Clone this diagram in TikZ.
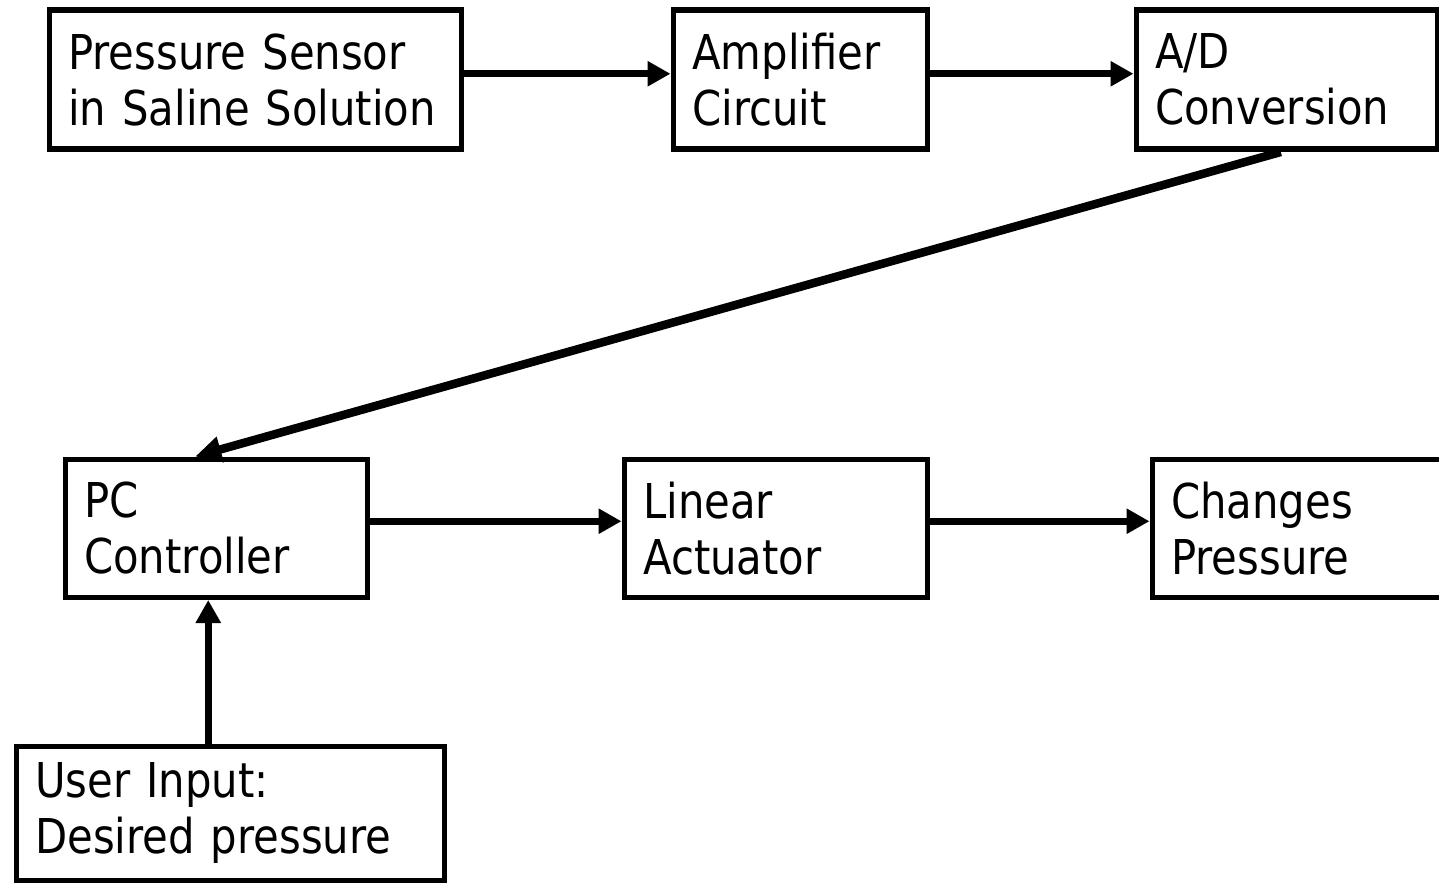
\documentclass[tikz,border=0pt]{standalone}
\usepackage{fontspec}
\setmainfont{DejaVu Sans}[FakeStretch=0.87]
\usetikzlibrary{arrows.meta, positioning, calc}

\tikzset{
  blk/.style={shape=rectangle, draw=black, fill=white, line width=5.5pt, minimum height=139pt,
    inner xsep=19pt, inner ysep=0pt, anchor=north west, align=left,
    font=\fontsize{48}{56}\selectfont},
  arr/.style={line width=7.5pt, -{Triangle[length=23pt, width=24pt]}}
}

\begin{document}
\begin{tikzpicture}[x=1pt, y=-1pt]
\useasboundingbox (0,0) rectangle (1439,885);
%top row
\node[blk, text width=374pt] (ps) at (46.5,7.5) {Pressure Sensor\\in Saline Solution};
\node[blk, text width=216pt] (amp) at (670.5,7.5) {Amplifier\\Circuit};
\node[blk, text width=263pt] (ad) at (1133.5,7.5) {A/D\\Conversion};
%bottom row
\node[blk, text width=264pt, minimum height=138pt] (pc) at (62.5,456.5) {PC\\Controller};
\node[blk, text width=265pt, minimum height=138pt] (la) at (621.5,456.5) {Linear\\Actuator};
\node[blk, text width=292pt, minimum height=138pt] (chg) at (1149.5,456.5) {Changes\\Pressure};
%user input
\node[blk, text width=390pt, minimum height=134pt] (ui) at (13.5,743.5) {User Input:\\Desired pressure};
%
\draw[arr] ([yshift=6pt]ps.east) -- ([yshift=6pt]amp.west);
\draw[arr] ([yshift=6pt]amp.east) -- ([yshift=6pt]ad.west);
\draw[arr, line width=8.5pt, -{Triangle[length=26pt, width=25pt]}] ([xshift=-6pt]ad.south) -- ([xshift=-21pt]pc.north);
\draw[arr] ([yshift=7pt]pc.east) -- ([yshift=7pt]la.west);
\draw[arr] ([yshift=7pt]la.east) -- ([yshift=7pt]chg.west);
\draw[arr] ([xshift=-8pt]pc.south |- ui.north) -- ([xshift=-8pt]pc.south);
\end{tikzpicture}
\end{document}
